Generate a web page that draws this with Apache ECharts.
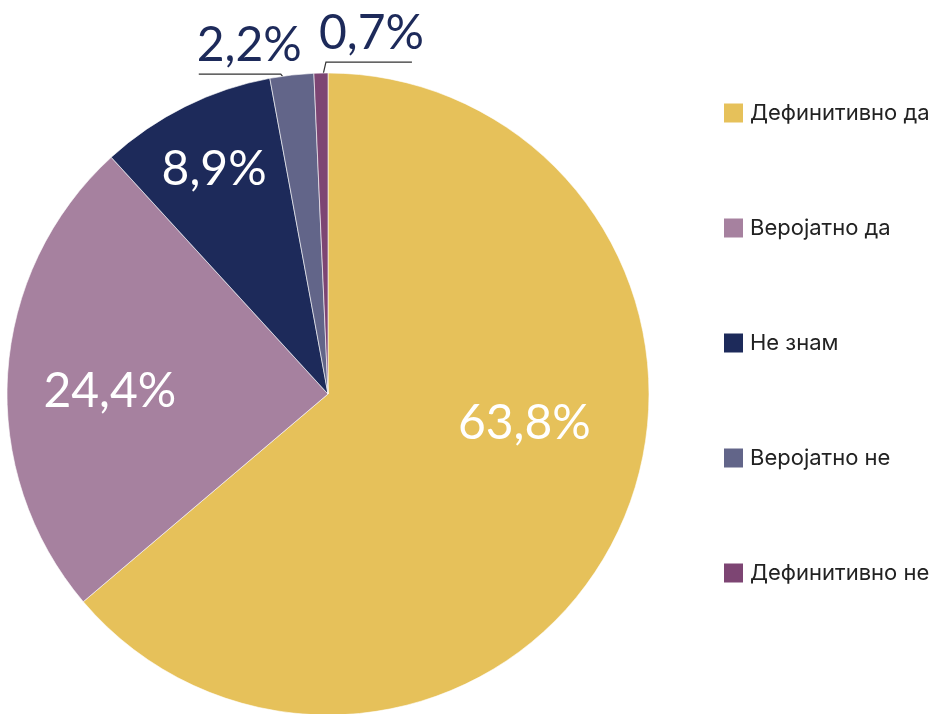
<!DOCTYPE html>
<html>
<head>
<meta charset="utf-8">
<script src="https://cdn.jsdelivr.net/npm/echarts@6/dist/echarts.min.js"></script>
<style>
  html, body { margin: 0; padding: 0; background: #fff; }
  #chart { width: 934px; height: 714px; }
</style>
</head>
<body>
<div id="chart"></div>
<script>
// податоци
const categories = ['Дефинитивно да', 'Веројатно да', 'Не знам', 'Веројатно не', 'Дефинитивно не'];
const values = [63.8, 24.4, 8.9, 2.2, 0.7];
const colors = ['#E6C15A', '#A6819F', '#1D2A5A', '#626589', '#7D4573'];

// поместување на внатрешните етикети
const insideOffsets = [[48, -39], [-55, 8], [-41, -78]];

const chart = echarts.init(document.getElementById('chart'));

const data = categories.map((name, i) => {
    const item = { name: name, value: values[i], itemStyle: { color: colors[i] } };
    if (i < 3) {
        item.label = { position: 'inside', offset: insideOffsets[i], color: '#fff' };
        item.labelLine = { show: false };
    } else {
        item.label = { position: 'outside', color: '#1D2A5A' };
        item.labelLine = { show: true };
    }
    return item;
});

chart.setOption({
    animation: false,
    legend: {
        orient: 'vertical',
        left: 724,
        top: 102,
        padding: 0,
        icon: 'rect',
        itemWidth: 19,
        itemHeight: 19,
        itemGap: 93,
        data: categories,
        itemStyle: { borderWidth: 0 },
        textStyle: {
            fontFamily: 'Inter',
            fontSize: 22,
            lineHeight: 19,
            color: '#222',
            padding: [0, 0, 0, 2],
        },
    },
    series: [
        {
            type: 'pie',
            center: [328, 394],
            radius: 321,
            startAngle: 90,
            clockwise: true,
            avoidLabelOverlap: false,
            itemStyle: { borderColor: '#fff', borderWidth: 0.6 },
            label: {
                fontFamily: 'Lato',
                fontSize: 48,
                lineHeight: 48,
                formatter: p => p.value.toFixed(1).replace('.', ',') + '%',
            },
            labelLine: {
                lineStyle: { color: '#333', width: 1.2 },
            },
            labelLayout: function (params) {
                const pts = params.labelLinePoints;
                if (!pts || params.dataIndex < 3) return {};
                const p0 = pts[0];
                if (params.dataIndex === 3) {
                    const p1 = [p0[0] - 11, p0[1] - 1];
                    const p2 = [p1[0] - 82, p1[1]];
                    return {
                        x: p2[0] - 2,
                        y: p1[1] - 5,
                        align: 'left',
                        verticalAlign: 'bottom',
                        labelLinePoints: [[p0[0], p0[1] + 13], p1, p2],
                    };
                }
                const p1 = [p0[0] + 5, p0[1] - 11];
                const p2 = [p1[0] + 86, p1[1]];
                return {
                    x: p1[0] - 7,
                    y: p1[1] - 5,
                    align: 'left',
                    verticalAlign: 'bottom',
                    labelLinePoints: [[p0[0] - 1, p0[1] + 15], p1, p2],
                };
            },
            data: data,
        },
    ],
});
</script>
</body>
</html>
